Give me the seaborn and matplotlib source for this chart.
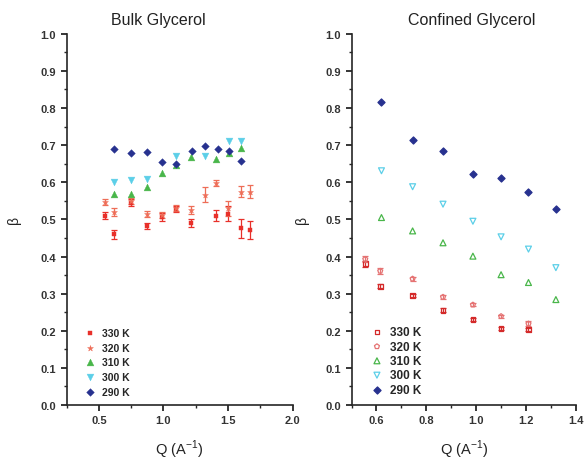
import numpy as np
import pandas as pd
import matplotlib
matplotlib.use("Agg")
import matplotlib.pyplot as plt
from matplotlib.ticker import MultipleLocator
import seaborn as sns

# ---- bulk glycerol (left panel) ----
bulk_q_330 = [0.55, 0.62, 0.745, 0.87, 0.99, 1.10, 1.21, 1.41, 1.50, 1.60, 1.67]
bulk_b_330 = [0.51, 0.46, 0.545, 0.483, 0.507, 0.527, 0.49, 0.51, 0.515, 0.476, 0.471]
bulk_e_330 = [0.010, 0.012, 0.010, 0.008, 0.010, 0.008, 0.010, 0.015, 0.020, 0.025, 0.025]

bulk_q_320 = [0.55, 0.62, 0.745, 0.87, 0.99, 1.10, 1.21, 1.32, 1.41, 1.50, 1.60, 1.67]
bulk_b_320 = [0.547, 0.52, 0.55, 0.514, 0.512, 0.53, 0.525, 0.566, 0.597, 0.53, 0.575, 0.575]
bulk_e_320 = [0.008, 0.012, 0.008, 0.008, 0.008, 0.008, 0.010, 0.020, 0.008, 0.020, 0.015, 0.018]

bulk_q_310 = [0.62, 0.745, 0.87, 0.99, 1.10, 1.21, 1.41, 1.51, 1.60]
bulk_b_310 = [0.568, 0.568, 0.587, 0.626, 0.647, 0.669, 0.663, 0.678, 0.692]

bulk_q_300 = [0.62, 0.745, 0.87, 1.10, 1.32, 1.51, 1.60]
bulk_b_300 = [0.601, 0.605, 0.608, 0.670, 0.670, 0.710, 0.710]

bulk_q_290 = [0.62, 0.745, 0.87, 0.99, 1.10, 1.22, 1.32, 1.42, 1.51, 1.60]
bulk_b_290 = [0.690, 0.678, 0.681, 0.654, 0.650, 0.683, 0.698, 0.691, 0.683, 0.656]

# ---- confined glycerol (right panel) ----
conf_q_330 = [0.555, 0.615, 0.745, 0.867, 0.987, 1.10, 1.21]
conf_b_330 = [0.381, 0.320, 0.295, 0.255, 0.231, 0.205, 0.203]
conf_e_330 = [0.008, 0.006, 0.005, 0.005, 0.004, 0.004, 0.004]

conf_q_320 = [0.555, 0.615, 0.745, 0.867, 0.987, 1.10, 1.21]
conf_b_320 = [0.393, 0.361, 0.340, 0.291, 0.270, 0.239, 0.219]
conf_e_320 = [0.008, 0.008, 0.005, 0.006, 0.004, 0.004, 0.006]

conf_q_310 = [0.62, 0.745, 0.867, 0.987, 1.10, 1.21, 1.32]
conf_b_310 = [0.505, 0.469, 0.437, 0.401, 0.351, 0.330, 0.284]

conf_q_300 = [0.62, 0.745, 0.867, 0.987, 1.10, 1.21, 1.32]
conf_b_300 = [0.631, 0.588, 0.541, 0.495, 0.453, 0.420, 0.370]

conf_q_290 = [0.62, 0.745, 0.867, 0.987, 1.10, 1.21, 1.32]
conf_b_290 = [0.817, 0.714, 0.685, 0.622, 0.611, 0.575, 0.529]

temps = ["330 K", "320 K", "310 K", "300 K", "290 K"]
bulk_colors = ["#e8302a", "#ee6d57", "#49b64a", "#5ccfe8", "#27318f"]
conf_colors = ["#d42a2a", "#e57373", "#49b64a", "#5ccfe8", "#27318f"]
bulk_markers = ["s", "*", "^", "v", "D"]
conf_markers = ["s", "p", "^", "v", "D"]

sns.set_style("ticks")
plt.rcParams["font.family"] = ["Liberation Sans", "DejaVu Sans"]

fig = plt.figure(figsize=(5.84, 4.64), dpi=100)
ax1 = fig.add_axes([0.114, 0.125, 0.387, 0.80])
ax2 = fig.add_axes([0.602, 0.125, 0.384, 0.80])

bulk = [
    (bulk_q_330, bulk_b_330, bulk_e_330),
    (bulk_q_320, bulk_b_320, bulk_e_320),
    (bulk_q_310, bulk_b_310, None),
    (bulk_q_300, bulk_b_300, None),
    (bulk_q_290, bulk_b_290, None),
]
conf = [
    (conf_q_330, conf_b_330, conf_e_330),
    (conf_q_320, conf_b_320, conf_e_320),
    (conf_q_310, conf_b_310, None),
    (conf_q_300, conf_b_300, None),
    (conf_q_290, conf_b_290, None),
]
bulk_sizes = [12, 20, 24, 24, 15]
conf_sizes = [12, 14, 18, 18, 13]

for i, (q, b, e) in enumerate(bulk):
    df = pd.DataFrame({"Q": q, "beta": b})
    if e is not None:
        ax1.errorbar(q, b, yerr=e, fmt="none", ecolor=bulk_colors[i],
                     elinewidth=0.9, capsize=2.5, capthick=0.9, zorder=2)
    sns.scatterplot(data=df, x="Q", y="beta", ax=ax1, marker=bulk_markers[i],
                    color=bulk_colors[i], s=bulk_sizes[i], linewidth=0.3,
                    edgecolor=bulk_colors[i], label=temps[i], zorder=3)

for i, (q, b, e) in enumerate(conf):
    df = pd.DataFrame({"Q": q, "beta": b})
    if e is not None:
        ax2.errorbar(q, b, yerr=e, fmt="none", ecolor=conf_colors[i],
                     elinewidth=0.9, capsize=2.5, capthick=0.9, zorder=2)
    sns.scatterplot(data=df, x="Q", y="beta", ax=ax2, marker=conf_markers[i],
                    color=conf_colors[i], s=conf_sizes[i], linewidth=0.9,
                    edgecolor=conf_colors[i], label=temps[i], zorder=3)
    if i < 4:
        ax2.collections[-1].set_facecolor("none")

for ax, xlim, major, minor, title, tx, ypad in [
    (ax1, (0.25, 2.0), 0.5, 0.25, "Bulk Glycerol", 0.405, 14),
    (ax2, (0.5, 1.4), 0.2, 0.1, "Confined Glycerol", 0.536, 12),
]:
    ax.set_xlim(*xlim)
    ax.set_ylim(0, 1.0)
    ax.xaxis.set_major_locator(MultipleLocator(major))
    ax.xaxis.set_minor_locator(MultipleLocator(minor))
    ax.yaxis.set_major_locator(MultipleLocator(0.1))
    ax.yaxis.set_minor_locator(MultipleLocator(0.05))
    ax.set_yticks(np.arange(0, 1.01, 0.1))
    ax.set_yticklabels([f"{v:.1f}" for v in np.arange(0, 1.01, 0.1)])
    ax.tick_params(which="major", direction="out", length=4, width=1.1,
                   labelsize=8, colors="black")
    ax.tick_params(which="minor", direction="out", length=2.5, width=1.0)
    for lab in ax.get_xticklabels() + ax.get_yticklabels():
        lab.set_fontweight("bold")
        lab.set_color("#333333")
    sns.despine(ax=ax)
    for sp in ["left", "bottom"]:
        ax.spines[sp].set_linewidth(1.2)
    ax.set_title(title, fontsize=11.5, x=tx, pad=7, color="#222222")
    ax.set_xlabel(r"Q (A$^{\mathregular{-1}}$)", fontsize=10.5, labelpad=9, color="#222222")
    ax.set_ylabel("\u03b2", fontsize=10, labelpad=ypad, color="#222222")
    ax.legend(loc="lower left", bbox_to_anchor=(0.05, 0.003), frameon=False,
              handlelength=1.0, handletextpad=0.6,
              labelspacing=0.45 if ax is ax1 else 0.2, borderpad=0.2,
              prop={"weight": "bold", "size": 7.5 if ax is ax1 else 8.5})

fig.savefig("out.png", dpi=100)
